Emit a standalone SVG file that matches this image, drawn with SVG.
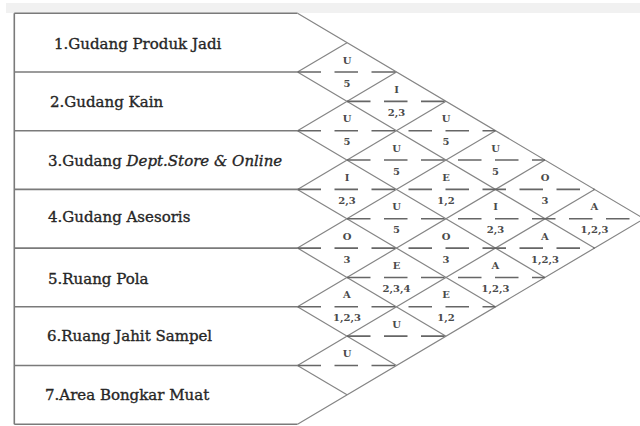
<svg xmlns="http://www.w3.org/2000/svg" width="640" height="426" viewBox="0 0 640 426">
  <style>
    .box { stroke: #7a7a7a; stroke-width: 1.6; fill: none; }
    .grid { stroke: #858585; stroke-width: 1.2; fill: none; }
    .dash { stroke: #666666; stroke-width: 1.6; fill: none; stroke-dasharray: 23.5 13.5; }
    .lbl { font-family: "DejaVu Serif", "Liberation Serif", serif; font-size: 15px; fill: #262626; stroke: #262626; stroke-width: 0.35; }
    .code { font-family: "DejaVu Serif", "Liberation Serif", serif; font-size: 10px; font-weight: bold; fill: #4a4a4a; text-anchor: middle; }
    .num { font-family: "DejaVu Serif", "Liberation Serif", serif; font-size: 10px; font-weight: bold; fill: #4a4a4a; text-anchor: middle; }
  </style>
  <rect x="0" y="0" width="640" height="426" fill="#ffffff"/>
  <rect x="6" y="3" width="634" height="10" fill="#f1f1f1"/>

  <!-- rows -->
  <g id="row1">
    <line class="box" x1="14.3" y1="13.3" x2="297.5" y2="13.3"/>
    <text class="lbl" x="54" y="49">1.Gudang Produk Jadi</text>
  </g>
  <g id="row2">
    <line class="box" x1="14.3" y1="72" x2="297.5" y2="72"/>
    <text class="lbl" x="50" y="107">2.Gudang Kain</text>
  </g>
  <g id="row3">
    <line class="box" x1="14.3" y1="130.7" x2="297.5" y2="130.7"/>
    <text class="lbl" x="48" y="166">3.Gudang <tspan font-style="italic">Dept.Store &amp; Online</tspan></text>
  </g>
  <g id="row4">
    <line class="box" x1="14.3" y1="189.4" x2="297.5" y2="189.4"/>
    <text class="lbl" x="48" y="222">4.Gudang Asesoris</text>
  </g>
  <g id="row5">
    <line class="box" x1="14.3" y1="248.1" x2="297.5" y2="248.1"/>
    <text class="lbl" x="48" y="284">5.Ruang Pola</text>
  </g>
  <g id="row6">
    <line class="box" x1="14.3" y1="306.8" x2="297.5" y2="306.8"/>
    <text class="lbl" x="47" y="341">6.Ruang Jahit Sampel</text>
  </g>
  <g id="row7">
    <line class="box" x1="14.3" y1="365.5" x2="297.5" y2="365.5"/>
    <text class="lbl" x="45" y="400">7.Area Bongkar Muat</text>
  </g>
  <g id="frame">
    <line class="box" x1="14.3" y1="13.3" x2="14.3" y2="424.2"/>
    <line class="box" x1="14.3" y1="424.2" x2="297.5" y2="424.2"/>
  </g>

  <!-- connectors / grid -->
  <g id="connectors">
    <path class="grid" d="M297.5 13.3 L644 218.75 L297.5 424.2"/>
    <line class="grid" x1="297.5" y1="72" x2="594.5" y2="248.1"/>
    <line class="grid" x1="297.5" y1="130.7" x2="545" y2="277.45"/>
    <line class="grid" x1="297.5" y1="189.4" x2="495.5" y2="306.8"/>
    <line class="grid" x1="297.5" y1="248.1" x2="446" y2="336.15"/>
    <line class="grid" x1="297.5" y1="306.8" x2="396.5" y2="365.5"/>
    <line class="grid" x1="297.5" y1="365.5" x2="347" y2="394.85"/>
    <line class="grid" x1="297.5" y1="72" x2="347" y2="42.65"/>
    <line class="grid" x1="297.5" y1="130.7" x2="396.5" y2="72"/>
    <line class="grid" x1="297.5" y1="189.4" x2="446" y2="101.35"/>
    <line class="grid" x1="297.5" y1="248.1" x2="495.5" y2="130.7"/>
    <line class="grid" x1="297.5" y1="306.8" x2="545" y2="160.05"/>
    <line class="grid" x1="297.5" y1="365.5" x2="594.5" y2="189.4"/>
    <line class="dash" x1="297.5" y1="72" x2="396.5" y2="72"/>
    <line class="dash" x1="347" y1="101.35" x2="446" y2="101.35"/>
    <line class="dash" x1="297.5" y1="130.7" x2="495.5" y2="130.7"/>
    <line class="dash" x1="347" y1="160.05" x2="545" y2="160.05"/>
    <line class="dash" x1="297.5" y1="189.4" x2="594.5" y2="189.4"/>
    <line class="dash" x1="347" y1="218.75" x2="644" y2="218.75"/>
    <line class="dash" x1="297.5" y1="248.1" x2="594.5" y2="248.1"/>
    <line class="dash" x1="347" y1="277.45" x2="545" y2="277.45"/>
    <line class="dash" x1="297.5" y1="306.8" x2="495.5" y2="306.8"/>
    <line class="dash" x1="347" y1="336.15" x2="446" y2="336.15"/>
    <line class="dash" x1="297.5" y1="365.5" x2="396.5" y2="365.5"/>
  </g>

  <!-- relationship cells -->
  <g id="c1-2"><text class="code" x="347" y="63.5">U</text><text class="num" x="347" y="86.5">5</text></g>
  <g id="c1-3"><text class="code" x="396.5" y="92.85">I</text><text class="num" x="396.5" y="115.85">2,3</text></g>
  <g id="c2-3"><text class="code" x="347" y="122.2">U</text><text class="num" x="347" y="145.2">5</text></g>
  <g id="c1-4"><text class="code" x="446" y="122.2">U</text><text class="num" x="446" y="145.2">5</text></g>
  <g id="c2-4"><text class="code" x="396.5" y="151.55">U</text><text class="num" x="396.5" y="174.55">5</text></g>
  <g id="c1-5"><text class="code" x="495.5" y="151.55">U</text><text class="num" x="495.5" y="174.55">5</text></g>
  <g id="c3-4"><text class="code" x="347" y="180.9">I</text><text class="num" x="347" y="203.9">2,3</text></g>
  <g id="c2-5"><text class="code" x="446" y="180.9">E</text><text class="num" x="446" y="203.9">1,2</text></g>
  <g id="c1-6"><text class="code" x="545" y="180.9">O</text><text class="num" x="545" y="203.9">3</text></g>
  <g id="c3-5"><text class="code" x="396.5" y="210.25">U</text><text class="num" x="396.5" y="233.25">5</text></g>
  <g id="c2-6"><text class="code" x="495.5" y="210.25">I</text><text class="num" x="495.5" y="233.25">2,3</text></g>
  <g id="c1-7"><text class="code" x="594.5" y="210.25">A</text><text class="num" x="594.5" y="233.25">1,2,3</text></g>
  <g id="c4-5"><text class="code" x="347" y="239.6">O</text><text class="num" x="347" y="262.6">3</text></g>
  <g id="c3-6"><text class="code" x="446" y="239.6">O</text><text class="num" x="446" y="262.6">3</text></g>
  <g id="c2-7"><text class="code" x="545" y="239.6">A</text><text class="num" x="545" y="262.6">1,2,3</text></g>
  <g id="c4-6"><text class="code" x="396.5" y="268.95">E</text><text class="num" x="396.5" y="291.95">2,3,4</text></g>
  <g id="c3-7"><text class="code" x="495.5" y="268.95">A</text><text class="num" x="495.5" y="291.95">1,2,3</text></g>
  <g id="c5-6"><text class="code" x="347" y="298.3">A</text><text class="num" x="347" y="321.3">1,2,3</text></g>
  <g id="c4-7"><text class="code" x="446" y="298.3">E</text><text class="num" x="446" y="321.3">1,2</text></g>
  <g id="c5-7"><text class="code" x="396.5" y="327.65">U</text></g>
  <g id="c6-7"><text class="code" x="347" y="357">U</text></g>
</svg>
